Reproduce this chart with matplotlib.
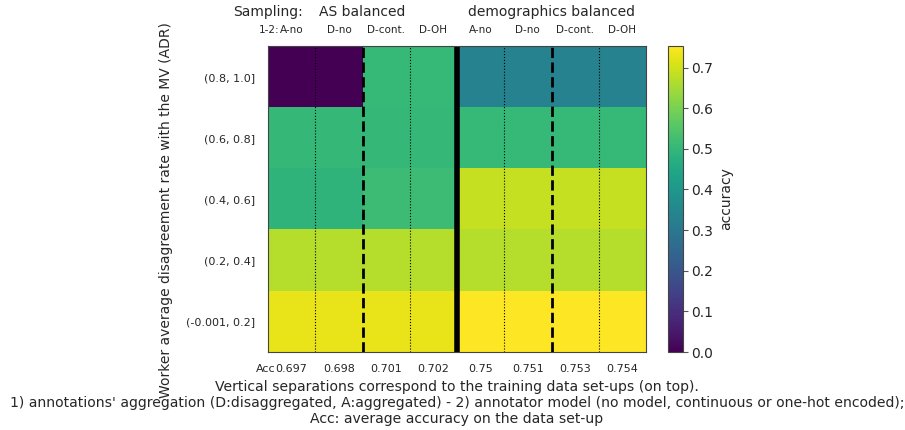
import numpy as np
import matplotlib
matplotlib.use("Agg")
import matplotlib.pyplot as plt

rows = ["(0.8, 1.0]", "(0.6, 0.8]", "(0.4, 0.6]", "(0.2, 0.4]", "(-0.001, 0.2]"]
cols = ["A-no", "D-no", "D-cont.", "D-OH", "A-no", "D-no", "D-cont.", "D-OH"]
acc_avg = ["0.697", "0.698", "0.701", "0.702", "0.75", "0.751", "0.753", "0.754"]

r_08_10 = [0.00, 0.00, 0.503, 0.503, 0.335, 0.335, 0.335, 0.335]
r_06_08 = [0.502, 0.502, 0.502, 0.502, 0.503, 0.503, 0.503, 0.503]
r_04_06 = [0.490, 0.490, 0.515, 0.515, 0.688, 0.688, 0.688, 0.688]
r_02_04 = [0.668, 0.668, 0.668, 0.668, 0.670, 0.670, 0.670, 0.670]
r_00_02 = [0.728, 0.728, 0.728, 0.728, 0.753, 0.753, 0.753, 0.753]

data = np.array([r_08_10, r_06_08, r_04_06, r_02_04, r_00_02])

TXT = "#262626"
plt.rcParams["text.color"] = TXT
plt.rcParams["axes.labelcolor"] = TXT
plt.rcParams["xtick.color"] = TXT
plt.rcParams["ytick.color"] = TXT

fig = plt.figure(figsize=(9.05, 4.3), dpi=100)
ax = fig.add_axes([268/905, 1-352/430, 378/905, 306/430])
cax = fig.add_axes([668/905, 1-352/430, 15/905, 306/430])

im = ax.imshow(data, cmap="viridis", aspect="auto", vmin=0, vmax=data.max(),
               interpolation="nearest")
for s in ax.spines.values():
    s.set_color("#444444")
    s.set_linewidth(0.8)

for x in [0.5, 2.5, 4.5, 6.5]:
    ax.axvline(x, color="black", linestyle=":", linewidth=0.8)
for x in [1.5, 5.5]:
    ax.axvline(x, color="black", linestyle="--", linewidth=2.0)
ax.axvline(3.5, color="black", linestyle="-", linewidth=4.0)

ax.set_yticks(range(len(rows)))
ax.set_yticklabels(rows, fontsize=8)
ax.set_xticks(range(len(cols)))
ax.set_xticklabels(acc_avg, fontsize=8)
ax.tick_params(axis="both", length=0, pad=9)

ax.set_ylabel("Worker average disagreement rate with the MV (ADR)", fontsize=10)
ax.yaxis.set_label_coords(-0.252, 0.465)
ax.set_xlabel("Vertical separations correspond to the training data set-ups (on top).\n"
              "1) annotations' aggregation (D:disaggregated, A:aggregated) - 2) annotator model (no model, continuous or one-hot encoded);\n"
              "Acc: average accuracy on the data set-up", fontsize=10.1, labelpad=4)

# top labels
trans = ax.get_xaxis_transform()
for i, c in enumerate(cols):
    ax.text(i, 1.0 + 16/306, c, transform=trans, ha="center", va="center", fontsize=7.5)
ax.text(1.5, 1.0 + 34/306, "AS balanced", transform=trans, ha="center", va="center", fontsize=10)
ax.text(5.5, 1.0 + 34/306, "demographics balanced", transform=trans, ha="center", va="center", fontsize=10)

fig.canvas.draw()
renderer = fig.canvas.get_renderer()
top_first = ax.texts[0]
bb = top_first.get_window_extent(renderer)
inv = ax.transData.inverted()
x0 = inv.transform((bb.x0, bb.y0))[0]
ax.text(x0, 1.0 + 16/306, "1-2:", transform=trans, ha="right", va="center", fontsize=7.5)
fig.text(303/905, 1-12/430, "Sampling:", ha="right", va="center", fontsize=10)

tl = ax.get_xticklabels()[0]
bb2 = tl.get_window_extent(renderer)
fig.text(bb2.x0/fig.bbox.width, bb2.y0/fig.bbox.height, "Acc", ha="right", va="bottom", fontsize=8)

cb = fig.colorbar(im, cax=cax)
cb.set_label("accuracy", fontsize=10)
cb.ax.tick_params(labelsize=10, length=3.5, pad=2.5, color="#555555")
cb.set_ticks([0.0, 0.1, 0.2, 0.3, 0.4, 0.5, 0.6, 0.7])
cb.outline.set_edgecolor("#444444")
cb.outline.set_linewidth(0.8)

fig.savefig("out.png", dpi=100)
